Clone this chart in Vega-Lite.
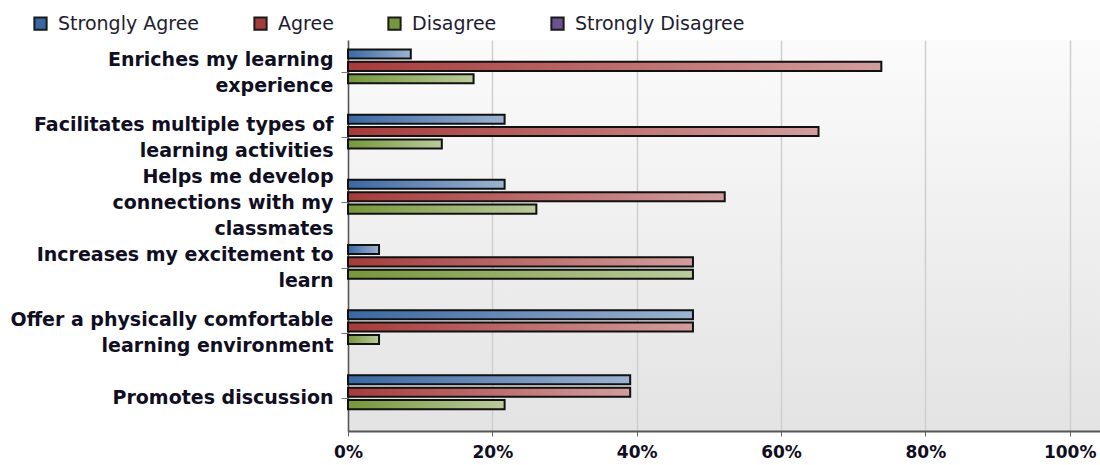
{
  "$schema": "https://vega.github.io/schema/vega-lite/v6.json",
  "autosize": "none",
  "width": 752,
  "height": 391,
  "padding": {"left": 348, "top": 40, "right": 0, "bottom": 34},
  "background": "#ffffff",
  "view": {
    "stroke": null,
    "fill": {"gradient": "linear", "x1": 0, "y1": 0, "x2": 0, "y2": 1,
      "stops": [{"offset": 0, "color": "#fbfbfb"}, {"offset": 1, "color": "#e3e3e3"}]}
  },
  "data": {
    "values": [
      {"statement": "Enriches my learning|experience", "response": "Strongly Agree", "pct": 0.087},
      {"statement": "Enriches my learning|experience", "response": "Agree", "pct": 0.739},
      {"statement": "Enriches my learning|experience", "response": "Disagree", "pct": 0.174},
      {"statement": "Enriches my learning|experience", "response": "Strongly Disagree", "pct": 0},
      {"statement": "Facilitates multiple types of|learning activities", "response": "Strongly Agree", "pct": 0.217},
      {"statement": "Facilitates multiple types of|learning activities", "response": "Agree", "pct": 0.652},
      {"statement": "Facilitates multiple types of|learning activities", "response": "Disagree", "pct": 0.130},
      {"statement": "Facilitates multiple types of|learning activities", "response": "Strongly Disagree", "pct": 0},
      {"statement": "Helps me develop|connections with my|classmates", "response": "Strongly Agree", "pct": 0.217},
      {"statement": "Helps me develop|connections with my|classmates", "response": "Agree", "pct": 0.522},
      {"statement": "Helps me develop|connections with my|classmates", "response": "Disagree", "pct": 0.261},
      {"statement": "Helps me develop|connections with my|classmates", "response": "Strongly Disagree", "pct": 0},
      {"statement": "Increases my excitement to|learn", "response": "Strongly Agree", "pct": 0.043},
      {"statement": "Increases my excitement to|learn", "response": "Agree", "pct": 0.478},
      {"statement": "Increases my excitement to|learn", "response": "Disagree", "pct": 0.478},
      {"statement": "Increases my excitement to|learn", "response": "Strongly Disagree", "pct": 0},
      {"statement": "Offer a physically comfortable|learning environment", "response": "Strongly Agree", "pct": 0.478},
      {"statement": "Offer a physically comfortable|learning environment", "response": "Agree", "pct": 0.478},
      {"statement": "Offer a physically comfortable|learning environment", "response": "Disagree", "pct": 0.043},
      {"statement": "Offer a physically comfortable|learning environment", "response": "Strongly Disagree", "pct": 0},
      {"statement": "Promotes discussion", "response": "Strongly Agree", "pct": 0.391},
      {"statement": "Promotes discussion", "response": "Agree", "pct": 0.391},
      {"statement": "Promotes discussion", "response": "Disagree", "pct": 0.217},
      {"statement": "Promotes discussion", "response": "Strongly Disagree", "pct": 0}
    ]
  },
  "transform": [{"filter": "datum.pct > 0"}],
  "encoding": {
    "y": {
      "field": "statement", "type": "nominal", "sort": null,
      "scale": {"domain": ["Enriches my learning|experience", "Facilitates multiple types of|learning activities", "Helps me develop|connections with my|classmates", "Increases my excitement to|learn", "Offer a physically comfortable|learning environment", "Promotes discussion"], "paddingInner": 0.24, "paddingOuter": 0.12},
      "axis": {
        "title": null,
        "labelExpr": "split(datum.label, '|')",
        "labelOffset": {"expr": "-13 * (length(split(datum.label, '|')) - 1)"},
        "labelFont": "DejaVu Sans", "labelFontSize": 19, "labelFontWeight": "bold",
        "labelColor": "#100e22", "labelLineHeight": 26, "labelPadding": 8,
        "labelLimit": 400,
        "domainColor": "#555555", "domainWidth": 1.5,
        "tickColor": "#777777", "tickSize": 7, "tickWidth": 1,
        "grid": false
      }
    },
    "x": {
      "field": "pct", "type": "quantitative",
      "scale": {"domain": [0, 1.042], "nice": false, "zero": true},
      "axis": {
        "title": null, "format": ".0%", "values": [0, 0.2, 0.4, 0.6, 0.8, 1.0],
        "labelFont": "DejaVu Sans", "labelFontSize": 17, "labelFontWeight": "bold",
        "labelColor": "#100e22", "labelPadding": 8, "labelFlush": false,
        "domainColor": "#555555", "domainWidth": 2,
        "tickColor": "#666666", "tickSize": 5, "tickWidth": 1,
        "grid": true, "gridColor": "#cfcfcf", "gridWidth": 1.5
      }
    },
    "yOffset": {
      "field": "response", "type": "nominal",
      "scale": {"domain": ["Strongly Agree", "Agree", "Disagree", "Strongly Disagree"], "paddingInner": 0.27, "paddingOuter": 0.135}
    }
  },
  "layer": [
    {
      "mark": {"type": "bar", "strokeWidth": 0, "cornerRadius": 0},
      "encoding": {
        "color": {
          "field": "response", "type": "nominal",
          "scale": {
            "domain": ["Strongly Agree", "Agree", "Disagree", "Strongly Disagree"],
            "range": ["#3a68a3", "#a63b3b", "#76973a", "#6b5190"]
          },
          "legend": {
            "title": null, "orient": "none", "direction": "horizontal",
            "legendX": -317, "legendY": -26,
            "symbolType": "square", "symbolSize": 150,
            "symbolStrokeColor": "#1a1a1a", "symbolStrokeWidth": 2, "symbolOpacity": 1,
            "labelFont": "DejaVu Sans", "labelFontSize": 19, "labelColor": "#1e1c30",
            "labelOffset": 8, "columnPadding": 50, "labelLimit": 300
          }
        }
      }
    },
    {
      "mark": {
        "type": "bar", "stroke": "#111111", "strokeWidth": 2,
        "color": {"gradient": "linear", "x1": 0, "y1": 0, "x2": 1, "y2": 0,
          "stops": [{"offset": 0, "color": "rgba(255,255,255,0)"}, {"offset": 1, "color": "rgba(255,255,255,0.5)"}]}
      },
      "encoding": {}
    }
  ]
}
